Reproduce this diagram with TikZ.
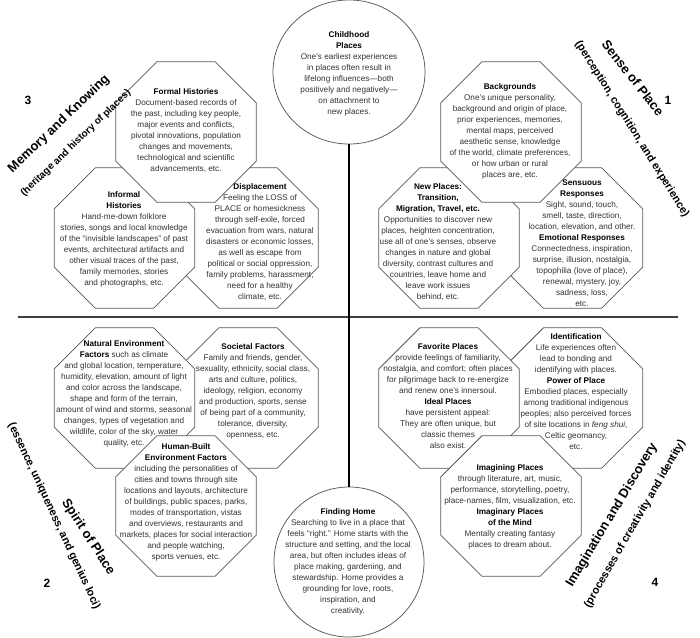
\documentclass[tikz,border=0pt]{standalone}
\usepackage{fontspec}
\setmainfont{Liberation Sans}
\usetikzlibrary{shapes.geometric}
\newcommand{\hd}[1]{{\bfseries\color{black}#1}}
\begin{document}
\begin{tikzpicture}[x=1pt,y=1pt,
  oct/.style={regular polygon, regular polygon sides=8, minimum size=152pt, inner sep=0pt, outer sep=0pt, draw=black!65, line width=0.75pt, fill=white},
  circ/.style={ellipse, inner sep=0pt, outer sep=0pt, draw=black!65, line width=0.75pt, fill=white},
  txt/.style={align=center, inner sep=0pt, text=black!80, font=\fontsize{8.2}{11}\selectfont},
  num/.style={font=\fontsize{12}{12}\selectfont\bfseries, inner sep=0pt},
  head/.style={font=\fontsize{13}{13}\selectfont\bfseries, inner sep=0pt},
  sub/.style={font=\fontsize{11}{11}\selectfont\bfseries, inner sep=0pt},
]
\useasboundingbox (0,0) rectangle (700,-637);
\fill[white] (0,0) rectangle (700,-637);

% circles
\node[circ, minimum width=152pt, minimum height=144pt] (child) at (349,-72) {};
\node[circ, minimum width=150pt, minimum height=150pt] (home) at (349,-562) {};

% axes
\coordinate (hl) at (18,-317);
\coordinate (hr) at (678,-317);
\draw[line width=2pt, black!75] (hl) -- (hr);
\draw[line width=1.3pt] (child.south) -- (home.north);

% octagons: top-left
\node[oct] (disp) at (248,-238) {};
\node[oct] (infh) at (124.5,-238) {};
\node[oct] (form) at (186,-132) {};
% top-right
\node[oct] (sens) at (572.5,-238) {};
\node[oct] (newp) at (449,-238) {};
\node[oct] (back) at (511,-132) {};
% bottom-left
\node[oct] (soci) at (248,-398) {};
\node[oct] (natu) at (124.5,-398) {};
\node[oct] (human) at (186,-506) {};
% bottom-right
\node[oct] (iden) at (572.5,-398) {};
\node[oct] (favo) at (449,-398) {};
\node[oct] (imag) at (511,-506) {};

% texts
\node[txt] (childt) at (349,-74) {\hd{Childhood}\\\hd{Places}\\One’s earliest experiences\\in places often result in\\lifelong influences—both\\positively and negatively—\\on attachment to\\new places.};
\node[txt] (homet) at (348,-561.5) {\hd{Finding Home}\\Searching to live in a place that\\feels “right.” Home starts with the\\structure and setting, and the local\\area, but often includes ideas of\\place making, gardening, and\\stewardship. Home provides a\\grounding for love, roots,\\inspiration, and\\creativity.};
\node[txt] (formt) at (186,-131) {\hd{Formal Histories}\\Document-based records of\\the past, including key people,\\major events and conflicts,\\pivotal innovations, population\\changes and movements,\\technological and scientific\\advancements, etc.};
\node[txt] (infht) at (124,-239.5) {\hd{Informal}\\\hd{Histories}\\Hand-me-down folklore\\stories, songs and local knowledge\\of the “invisible landscapes” of past\\events, architectural artifacts and\\other visual traces of the past,\\family memories, stories\\and photographs, etc.};
\node[txt] (dispt) at (260,-242) {\hd{Displacement}\\Feeling the LOSS of\\PLACE or homesickness\\through self-exile, forced\\evacuation from wars, natural\\disasters or economic losses,\\as well as escape from\\political or social oppression,\\family problems, harassment,\\need for a healthy\\climate, etc.};
\node[txt] (backt) at (510,-131) {\hd{Backgrounds}\\One’s unique personality,\\background and origin of place,\\prior experiences, memories,\\mental maps, perceived\\aesthetic sense, knowledge\\of the world, climate preferences,\\or how urban or rural\\places are, etc.};
\node[txt] (newpt) at (438,-242.5) {\hd{New Places:}\\\hd{Transition,}\\\hd{Migration, Travel, etc.}\\Opportunities to discover new\\places, heighten concentration,\\use all of one’s senses, observe\\changes in nature and global\\diversity, contrast cultures and\\countries, leave home and\\leave work issues\\behind, etc.};
\node[txt] (senst) at (582,-243.5) {\hd{Sensuous}\\\hd{Responses}\\Sight, sound, touch,\\smell, taste, direction,\\location, elevation, and other.\\\hd{Emotional Responses}\\Connectedness, inspiration,\\surprise, illusion, nostalgia,\\topophilia (love of place),\\renewal, mystery, joy,\\sadness, loss,\\etc.};
\node[txt] (natut) at (124,-393.5) {\hd{Natural Environment}\\\hd{Factors} such as climate\\and global location, temperature,\\humidity, elevation, amount of light\\and color across the landscape,\\shape and form of the terrain,\\amount of wind and storms, seasonal\\changes, types of vegetation and\\wildlife, color of the sky, water\\quality, etc.};
\node[txt] (socit) at (253,-391.5) {\hd{Societal Factors}\\Family and friends, gender,\\sexuality, ethnicity, social class,\\arts and culture, politics,\\ideology, religion, economy\\and production, sports, sense\\of being part of a community,\\tolerance, diversity,\\openness, etc.};
\node[txt] (humant) at (186,-502.5) {\hd{Human-Built}\\\hd{Environment Factors}\\including the personalities of\\cities and towns through site\\locations and layouts, architecture\\of buildings, public spaces, parks,\\modes of transportation, vistas\\and overviews, restaurants and\\markets, places for social interaction\\and people watching,\\sports venues, etc.};
\node[txt] (favot) at (448,-396.5) {\hd{Favorite Places}\\provide feelings of familiarity,\\nostalgia, and comfort; often places\\for pilgrimage back to re-energize\\and renew one’s innersoul.\\\hd{Ideal Places}\\have persistent appeal:\\They are often unique, but\\classic themes\\also exist.};
\node[txt] (ident) at (576,-391.5) {\hd{Identification}\\Life experiences often\\lead to bonding and\\identifying with places.\\\hd{Power of Place}\\Embodied places, especially\\among traditional indigenous\\peoples; also perceived forces\\of site locations in \textit{feng shui},\\Celtic geomancy,\\etc.};
\node[txt] (imagt) at (510,-507) {\hd{Imagining Places}\\through literature, art, music,\\performance, storytelling, poetry,\\place-names, film, visualization, etc.\\\hd{Imaginary Places}\\\hd{of the Mind}\\Mentally creating fantasy\\places to dream about.};

% quadrant labels
\node[num] (n1) at (668,-100) {1};
\node[num] (n2) at (47,-583) {2};
\node[num] (n3) at (28,-100) {3};
\node[num] (n4) at (655,-582) {4};

\node[head, rotate=-52] (l1h) at (633,-78) {Sense of Place};
\node[sub, rotate=-58] (l1s) at (632,-129) {(perception, cognition, and experience)};
\node[head, rotate=44] (l3h) at (59,-124) {Memory and Knowing};
\node[sub, rotate=44, font=\fontsize{10}{10}\selectfont\bfseries] (l3s) at (76,-143) {(heritage and history of places)};
\node[head, rotate=-57] (l2h) at (88,-537) {Spirit of Place};
\node[sub, rotate=-65] (l2s) at (54,-516) {(essence, uniqueness, and genius loci)};
\node[head, rotate=59] (l4h) at (612,-515) {Imagination and Discovery};
\node[sub, rotate=60] (l4s) at (635,-524) {(processes of creativity and identity)};
\end{tikzpicture}
\end{document}
